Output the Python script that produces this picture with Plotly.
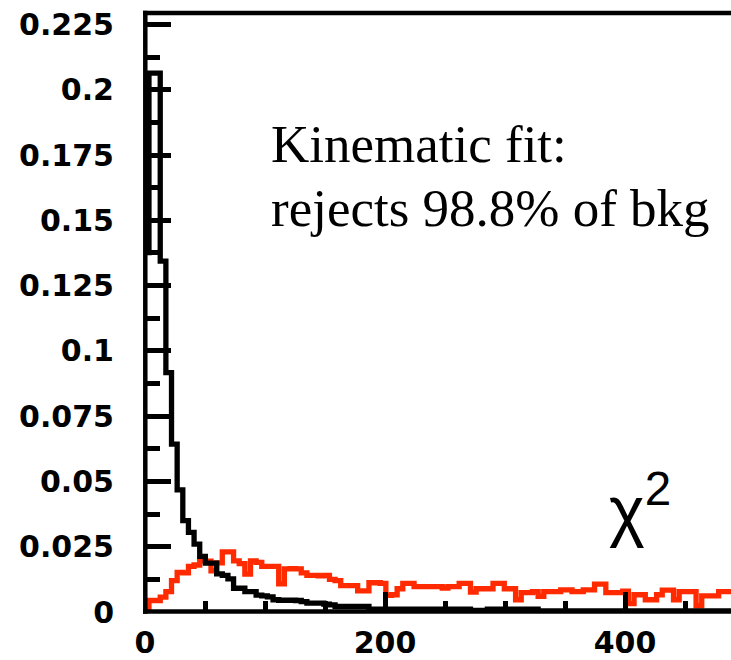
import plotly.graph_objects as go

# ---------------- data ----------------
X_START = -1.4      # left edge of first bin (chi2 units)
BIN_W = 4.7         # bin width (chi2 units)

black_vals = [
    0.1376, 0.2064, 0.2064, 0.1344, 0.0917, 0.0643, 0.0468, 0.0350, 0.0305, 0.0260,
    0.0213, 0.0187, 0.0187, 0.0146, 0.0140, 0.0127, 0.0091, 0.0091, 0.0078, 0.0078,
    0.0065, 0.0062, 0.0058, 0.0047, 0.0045, 0.0045, 0.0045, 0.0044, 0.0040, 0.0034,
    0.0034, 0.0034, 0.0030, 0.0027, 0.0021, 0.0021, 0.0021, 0.0021, 0.0021, 0.0021,
    0.0011, 0.0011, 0.0011, 0.0011, 0.0011, 0.0011, 0.0011, 0.0011, 0.0011, 0.0011,
    0.0011, 0.0011, 0.0011, 0.0011, 0.0011, 0.0011, 0.0011, 0.0011, 0.0006, 0.0006,
    0.0006, 0.0011, 0.0011, 0.0011, 0.0011, 0.0011, 0.0011, 0.0011, 0.0011, 0.0011,
    0.0004, 0.0004, 0.0004, 0.0004, 0.0004, 0.0004, 0.0004, 0.0004, 0.0004, 0.0004,
    0.0004, 0.0004, 0.0004, 0.0004, 0.0004, 0.0004, 0.0004, 0.0004, 0.0004, 0.0004,
    0.0004, 0.0004, 0.0004, 0.0004, 0.0004, 0.0004, 0.0004, 0.0004, 0.0004, 0.0004,
    0.0004, 0.0004, 0.0004, 0.0004, 0.0004,
]

red_vals = [
    0.0015, 0.0044, 0.0044, 0.0057, 0.0078, 0.0120, 0.0152, 0.0150, 0.0175, 0.0180,
    0.0197, 0.0195, 0.0158, 0.0188, 0.0230, 0.0230, 0.0196, 0.0185, 0.0145, 0.0196,
    0.0190, 0.0175, 0.0175, 0.0175, 0.0108, 0.0165, 0.0166, 0.0165, 0.0150, 0.0140,
    0.0140, 0.0138, 0.0140, 0.0125, 0.0120, 0.0101, 0.0101, 0.0101, 0.0081, 0.0081,
    0.0112, 0.0112, 0.0110, 0.0064, 0.0066, 0.0089, 0.0110, 0.0110, 0.0097, 0.0097,
    0.0097, 0.0097, 0.0097, 0.0092, 0.0097, 0.0097, 0.0110, 0.0110, 0.0076, 0.0089,
    0.0089, 0.0089, 0.0110, 0.0110, 0.0089, 0.0089, 0.0047, 0.0074, 0.0074, 0.0078,
    0.0060, 0.0078, 0.0078, 0.0078, 0.0085, 0.0085, 0.0078, 0.0078, 0.0085, 0.0085,
    0.0107, 0.0107, 0.0074, 0.0074, 0.0074, 0.0080, 0.0032, 0.0066, 0.0066, 0.0047,
    0.0047, 0.0066, 0.0084, 0.0084, 0.0047, 0.0078, 0.0078, 0.0078, 0.0024, 0.0062,
    0.0062, 0.0062, 0.0078, 0.0078, 0.0078,
]

y_tickvals = [0, 0.025, 0.05, 0.075, 0.1, 0.125, 0.15, 0.175, 0.2, 0.225]
y_ticktext = ["0", "0.025", "0.05", "0.075", "0.1", "0.125", "0.15", "0.175", "0.2", "0.225"]
y_minorvals = [0.0125, 0.0375, 0.0625, 0.0875, 0.1125, 0.1375, 0.1625, 0.1875, 0.2125]
x_tickvals = [0, 200, 400]
x_ticktext = ["0", "200", "400"]
x_minorvals = [50, 100, 150, 250, 300, 350, 450]

X_RANGE = [0, 488.3]
Y_RANGE = [0, 0.2294]

# ---------------- figure ----------------
W, H = 731, 660
L, R, T, B = 145, 0, 12.5, 47.7
PW, PH = W - L - R, H - T - B


def px2paper(px, py):
    return (px - L) / PW, (H - B - py) / PH


def step_xy(vals):
    xs = [X_START + BIN_W * i for i in range(len(vals) + 1)]
    ys = list(vals) + [vals[-1]]
    return xs, ys


fig = go.Figure()
rx, ry = step_xy(red_vals)
fig.add_trace(go.Scatter(x=rx, y=ry, mode="lines", line=dict(shape="hv", color="#ff2a00", width=5.3),
                         hoverinfo="skip", showlegend=False))
bx, by = step_xy(black_vals)
fig.add_trace(go.Scatter(x=bx, y=by, mode="lines", line=dict(shape="hv", color="black", width=5.3),
                         hoverinfo="skip", showlegend=False))

tickfont = dict(family="DejaVu Sans", size=30, color="black", weight="bold")

fig.update_xaxes(range=X_RANGE, showline=False, showgrid=False, zeroline=False,
                 tickmode="array", tickvals=x_tickvals, ticktext=x_ticktext,
                 ticks="inside", ticklen=20, tickwidth=5, tickcolor="black",
                 tickfont=tickfont, ticklabelstandoff=10,
                 minor=dict(tickmode="array", tickvals=x_minorvals, ticks="inside",
                            ticklen=11, tickwidth=5, tickcolor="black", showgrid=False))
fig.update_yaxes(range=Y_RANGE, showline=False, showgrid=False, zeroline=False,
                 tickmode="array", tickvals=y_tickvals, ticktext=y_ticktext,
                 ticks="inside", ticklen=25.5, tickwidth=5, tickcolor="black",
                 tickfont=tickfont, ticklabelstandoff=30,
                 minor=dict(tickmode="array", tickvals=y_minorvals, ticks="inside",
                            ticklen=15, tickwidth=5, tickcolor="black", showgrid=False))

# frame (left axis, bottom axis, top line)
FRAME_W = 4.5
xl, _ = px2paper(145.3, 0)
_, yb = px2paper(0, 611.8)
_, yt = px2paper(0, 12.5)
xr, _ = px2paper(W + 5, 0)
xl0, _ = px2paper(143.0, 0)
_, yb0 = px2paper(0, 614.0)
_, yt0 = px2paper(0, 10.2)
for x0, y0, x1, y1 in [(xl, yb0, xl, yt0), (xl0, yb, xr, yb), (xl0, yt, xr, yt)]:
    fig.add_shape(type="line", xref="paper", yref="paper", x0=x0, y0=y0, x1=x1, y1=y1,
                  line=dict(color="black", width=FRAME_W), layer="above")

serif = dict(family="Liberation Serif", size=53, color="black")
ax1, ay1 = px2paper(269, 144)
ax2, ay2 = px2paper(269, 208)
cx, cy = px2paper(607, 505)
fig.add_annotation(x=ax1, y=ay1, xref="paper", yref="paper", text="Kinematic fit:",
                   showarrow=False, xanchor="left", yanchor="middle", font=serif)
fig.add_annotation(x=ax2, y=ay2, xref="paper", yref="paper", text="rejects 98.8% of bkg",
                   showarrow=False, xanchor="left", yanchor="middle", font=serif)
fig.add_annotation(x=cx, y=cy, xref="paper", yref="paper", text="χ<sup>2</sup>",
                   showarrow=False, xanchor="left", yanchor="middle",
                   font=dict(family="Liberation Sans", size=68, color="black"))

fig.update_layout(width=W, height=H, margin=dict(l=L, r=R, t=T, b=B, autoexpand=False),
                  paper_bgcolor="white", plot_bgcolor="white", showlegend=False)

fig.write_html("out.html", config={"displayModeBar": False})

# remove the default page margin so the figure sits at the window's corner
with open("out.html", "r", encoding="utf-8") as f:
    html = f.read()
html = html.replace("<body>", '<body style="margin:0;padding:0;overflow:hidden;">', 1)
with open("out.html", "w", encoding="utf-8") as f:
    f.write(html)
